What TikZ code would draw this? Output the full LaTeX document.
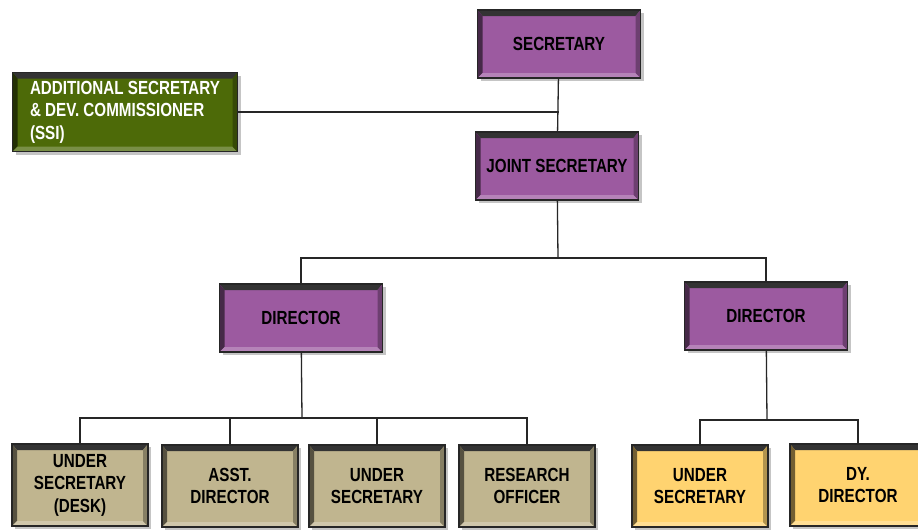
\documentclass[tikz,border=0pt]{standalone}
\usepackage{fontspec}
\newfontfamily\orgfont[FakeStretch=0.8]{Liberation Sans}
\usetikzlibrary{shadows}
\definecolor{plum}{RGB}{156,90,160}
\definecolor{olive}{RGB}{77,106,8}
\definecolor{khaki}{RGB}{192,181,143}
\definecolor{butter}{RGB}{255,211,112}
\tikzset{
  orgbox/.style={draw=black!85, line width=1.2pt, fill=#1,
    minimum width=136pt, minimum height=82pt, align=center, inner sep=2pt,
    font={\orgfont\bfseries\fontsize{19}{22.5}\selectfont},
    drop shadow={shadow xshift=3pt, shadow yshift=-3pt, fill=black!45},
    path picture={
      \fill[black!80] (path picture bounding box.north west) -- (path picture bounding box.north east)
        -- ([shift={(-5pt,-6pt)}]path picture bounding box.north east) -- ([shift={(5pt,-6pt)}]path picture bounding box.north west) -- cycle;
      \fill[#1!45!black] (path picture bounding box.north west) -- ([shift={(5pt,-6pt)}]path picture bounding box.north west)
        -- ([shift={(5pt,5pt)}]path picture bounding box.south west) -- (path picture bounding box.south west) -- cycle;
      \fill[#1!75!white] (path picture bounding box.south west) -- ([shift={(5pt,5pt)}]path picture bounding box.south west)
        -- ([shift={(-5pt,5pt)}]path picture bounding box.south east) -- (path picture bounding box.south east) -- cycle;
      \fill[#1!70!black] (path picture bounding box.south east) -- ([shift={(-5pt,5pt)}]path picture bounding box.south east)
        -- ([shift={(-5pt,-6pt)}]path picture bounding box.north east) -- (path picture bounding box.north east) -- cycle;
    }},
  headbox/.style={orgbox=plum, minimum width=163pt, minimum height=68pt},
  link/.style={draw=black!85, line width=1.3pt}
}
\begin{document}
\begin{tikzpicture}[x=1pt, y=-1pt]
  \clip (0,0) rectangle (918,531);
  \fill[white] (0,0) rectangle (918,531);
  % top of the chart
  \node[headbox] (sec)  at (559,44)                      {SECRETARY};
  \node[headbox] (jsec) at ([shift={(-2,122)}]  sec)     {JOINT SECRETARY};
  \node[orgbox=olive, minimum width=225pt, minimum height=79pt, align=left, text=white]
                 (addl) at (125,112)                     {ADDITIONAL SECRETARY\\\& DEV. COMMISSIONER\\(SSI)};
  \node[headbox] (dirL) at ([shift={(-256,152)}] jsec)   {DIRECTOR};
  \node[headbox] (dirR) at ([shift={(465,-2)}]   dirL)   {DIRECTOR};
  % bottom row
  \node[orgbox=khaki]  (us1) at (80,485)                 {UNDER\\SECRETARY\\(DESK)};
  \node[orgbox=khaki]  (ad)  at ([shift={(150,1)}]  us1) {ASST.\\DIRECTOR};
  \node[orgbox=khaki]  (us2) at ([shift={(147,0)}]  ad)  {UNDER\\SECRETARY};
  \node[orgbox=khaki]  (ro)  at ([shift={(150,0)}]  us2) {RESEARCH\\OFFICER};
  \node[orgbox=butter] (usY) at ([shift={(173,0)}]  ro)  {UNDER\\SECRETARY};
  \node[orgbox=butter] (dyY) at ([shift={(158,-1)}] usY) {DY.\\DIRECTOR};
  % connectors
  \coordinate (busJ) at (558,258);
  \coordinate (busL) at (302,418);
  \coordinate (busR) at (767,420);
  \draw[link] (sec) -- (jsec);
  \draw[link] (addl.east) -- (addl.east -| sec.south);
  \draw[link] (jsec) -- (busJ);
  \draw[link] (dirL.north) |- (busJ) -| (dirR.north);
  \draw[link] (dirL) -- (busL);
  \draw[link] (us1.north) |- (busL) -| (ro.north);
  \foreach \kid in {ad, us2}
    \draw[link] (\kid.north) -- (\kid.north |- busL);
  \draw[link] (dirR) -- (busR);
  \draw[link] (usY.north) |- (busR) -| (dyY.north);
\end{tikzpicture}
\end{document}
